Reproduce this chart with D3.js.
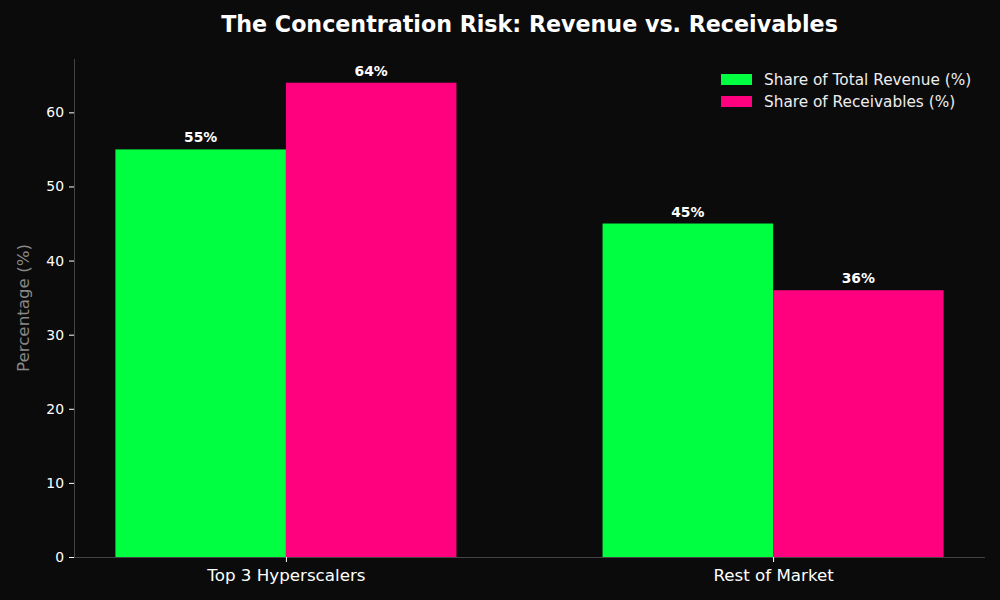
<!DOCTYPE html>
<html>
<head>
<meta charset="utf-8">
<script src="https://cdn.jsdelivr.net/npm/d3@7"></script>
<style>
  body { margin: 0; background: #0b0b0b; }
  svg { display: block; font-family: "DejaVu Sans", sans-serif; }
</style>
</head>
<body>
<div id="chart"></div>
<script>
// data
var categories = ["Top 3 Hyperscalers", "Rest of Market"];
var seriesNames = ["Share of Total Revenue (%)", "Share of Receivables (%)"];
var revenue = [55, 45];
var receivables = [64, 36];
var yTicks = [0, 10, 20, 30, 40, 50, 60];

var colors = ["#00ff41", "#ff007f"];

var W = 1000, H = 600;
var m = { top: 59, right: 15, bottom: 43, left: 74 };
var barW = 0.35;

var svg = d3.select("#chart").append("svg")
    .attr("width", W)
    .attr("height", H);

svg.append("rect").attr("width", W).attr("height", H).attr("fill", "#0b0b0b");

var x = d3.scaleLinear()
    .domain([-0.435, categories.length - 1 + 0.435])
    .range([m.left, W - m.right]);

var y = d3.scaleLinear()
    .domain([0, 64 * 1.05])
    .range([H - m.bottom, m.top]);

// bars
var series = [revenue, receivables];
series.forEach(function (vals, s) {
    var off = s === 0 ? -barW : 0;
    svg.append("g").selectAll("rect")
        .data(vals)
        .enter().append("rect")
        .attr("x", function (d, i) { return x(i + off); })
        .attr("width", function (d, i) { return x(i + off + barW) - x(i + off); })
        .attr("y", function (d) { return y(d); })
        .attr("height", function (d) { return y(0) - y(d); })
        .attr("fill", colors[s]);

    svg.append("g").selectAll("text")
        .data(vals)
        .enter().append("text")
        .attr("x", function (d, i) { return x(i + off + barW / 2); })
        .attr("y", function (d) { return y(d) - 7; })
        .attr("text-anchor", "middle")
        .attr("fill", "#ffffff")
        .attr("font-size", "13.9px")
        .attr("font-weight", "bold")
        .text(function (d) { return d + "%"; });
});

// axes
var yAxis = svg.append("g")
    .attr("transform", "translate(" + m.left + ",0)")
    .call(d3.axisLeft(y).tickValues(yTicks).tickSize(5).tickPadding(5));
yAxis.selectAll("text").attr("fill", "#ffffff").attr("font-size", "13.9px")
    .attr("font-family", "DejaVu Sans");
yAxis.selectAll(".tick line").attr("stroke", "#ffffff");
yAxis.select(".domain").attr("stroke", "#444444").attr("d", "M0.5," + m.top + "V" + (H - m.bottom));

var xAxis = svg.append("g")
    .attr("transform", "translate(0," + (H - m.bottom) + ")")
    .call(d3.axisBottom(x).tickValues(d3.range(categories.length))
        .tickFormat(function (d) { return categories[d]; })
        .tickSize(5).tickPadding(7));
xAxis.selectAll("text").attr("fill", "#ffffff").attr("font-size", "16.7px")
    .attr("font-family", "DejaVu Sans");
xAxis.selectAll(".tick line").attr("stroke", "#ffffff");
xAxis.select(".domain").attr("stroke", "#444444")
    .attr("d", "M" + m.left + ",0.5H" + (W - m.right));

// y label
svg.append("text")
    .attr("transform", "translate(29," + ((m.top + H - m.bottom) / 2) + ") rotate(-90)")
    .attr("text-anchor", "middle")
    .attr("fill", "#888888")
    .attr("font-size", "16.7px")
    .text("Percentage (%)");

// title
svg.append("text")
    .attr("x", (m.left + W - m.right) / 2)
    .attr("y", 32)
    .attr("text-anchor", "middle")
    .attr("fill", "#ffffff")
    .attr("font-size", "22.2px")
    .attr("font-weight", "bold")
    .text("The Concentration Risk: Revenue vs. Receivables");

// legend
var leg = svg.append("g").attr("transform", "translate(721,74)");
seriesNames.forEach(function (name, i) {
    leg.append("rect")
        .attr("x", 0).attr("y", i * 22)
        .attr("width", 31).attr("height", 11)
        .attr("fill", colors[i]);
    leg.append("text")
        .attr("x", 43).attr("y", i * 22 + 11)
        .attr("fill", "#eeeeee")
        .attr("font-size", "15.3px")
        .text(name);
});
</script>
</body>
</html>
